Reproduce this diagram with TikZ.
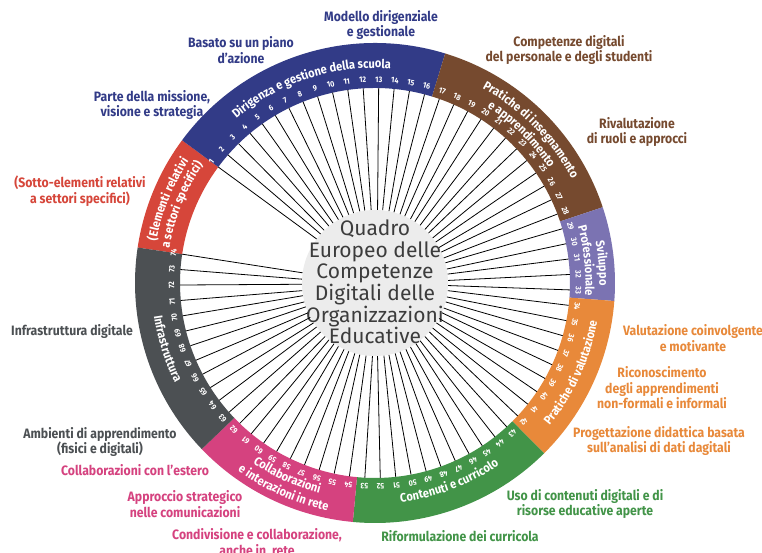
\documentclass[tikz,border=0pt]{standalone}
\usepackage{xcolor}
\usepackage{fontspec}
\usepackage{tikz}
\usetikzlibrary{decorations.text}

\newfontfamily\labelfont{Fira Sans}[FakeStretch=0.9]
\newfontfamily\hubfont{Fira Sans}

\definecolor{dirblue}{HTML}{323B87}
\definecolor{pratbrown}{HTML}{764A2F}
\definecolor{svilpurple}{HTML}{7B73B2}
\definecolor{valorange}{HTML}{E8893A}
\definecolor{contgreen}{HTML}{429448}
\definecolor{collpink}{HTML}{D5427F}
\definecolor{infgray}{HTML}{4C5053}
\definecolor{elemred}{HTML}{D6463A}
\definecolor{hubfill}{HTML}{ECECEC}
\definecolor{hubink}{HTML}{3C3C3C}

\newcommand{\bandfont}{\labelfont\bfseries\fontsize{12.3}{13}\selectfont\color{white}}

\tikzset{
  bandtext/.style={decorate, decoration={text along path, text align=center, text={|\bandfont|#1}}},
}

\begin{document}
\begin{tikzpicture}[x=1pt, y=1pt,
    lbl/.style={font=\labelfont\bfseries\fontsize{13.6}{15.5}\selectfont, align=center, inner sep=0pt},
    num/.style={font=\labelfont\bfseries\fontsize{8}{8}\selectfont, text=white, inner sep=0pt},
    spoke/.style={line width=0.8pt, black},
    hub/.style={circle, fill=hubfill, minimum size=146pt, inner sep=0pt},
    hubtxt/.style={font=\hubfont\fontsize{21}{21.6}\selectfont, text=hubink, align=center, inner sep=0pt}]

\useasboundingbox[fill=white] (0,0) rectangle (762,553);

\begin{scope}[shift={(375,270)}]
  \foreach \col/\from/\to in {elemred/171.5/143.5, dirblue/143.5/73.0, pratbrown/73.0/18.4,
      svilpurple/18.4/-4.3, valorange/-4.3/-45.2, contgreen/-45.2/-95.3,
      collpink/-95.3/-136.2, infgray/-136.2/-188.5}
    \fill[\col] (\from:195) arc[start angle=\from, end angle=\to, radius=195]
      -- (\to:240) arc[start angle=\to, end angle=\from, radius=240] -- cycle;

  \node[hub] (hub) at (0,0) {};
  \node[hubtxt] (title) at (0,1) {Quadro\\Europeo delle\\Competenze\\Digitali delle\\Organizzazioni\\Educative};

  \foreach \k [evaluate=\k as \a using 143.5-(\k-1)*4.548] in {1,...,74} {
    \draw[spoke] (hub.\a) -- (\a:195);
    \node[num, rotate=\a-90] (n\k) at (\a:203.5) {\k};
  }

  % titles on the ring
  \path[bandtext={Dirigenza e gestione della scuola}] (148:215) arc[start angle=148, end angle=68, radius=215];
  \path[bandtext={Pratiche di insegnamento}] (84.5:222.5) arc[start angle=84.5, end angle=4.5, radius=222.5];
  \path[bandtext={e apprendimento}] (85.5:208.5) arc[start angle=85.5, end angle=5.5, radius=208.5];
  \path[bandtext={Sviluppo}] (45:224.5) arc[start angle=45, end angle=-35, radius=224.5];
  \path[bandtext={Professionale}] (46:210.5) arc[start angle=46, end angle=-34, radius=210.5];
  \path[bandtext={Pratiche di valutazione}] (-64.5:225.5) arc[start angle=-64.5, end angle=15.5, radius=225.5];
  \path[bandtext={Contenuti e curricolo}] (-109.5:220.5) arc[start angle=-109.5, end angle=-29.5, radius=220.5];
  \path[bandtext={Collaborazioni}] (-154.5:217.5) arc[start angle=-154.5, end angle=-74.5, radius=217.5];
  \path[bandtext={e interazioni in rete}] (-154:232.5) arc[start angle=-154, end angle=-74, radius=232.5];
  \path[bandtext={Infrastruttura}] (157.5:223.5) arc[start angle=157.5, end angle=237.5, radius=223.5];
  \path[bandtext={(Elementi relativi}] (198:222.5) arc[start angle=198, end angle=118, radius=222.5];
  \path[bandtext={a settori specifici)}] (198:208.5) arc[start angle=198, end angle=118, radius=208.5];
\end{scope}

\node[lbl, text=dirblue] (modello) at (381,528) {Modello dirigenziale\\e gestionale};
\node[lbl, text=dirblue] (piano) at (241,503) {Basato su un piano\\d’azione};
\node[lbl, text=dirblue] (missione) at (152,448) {Parte della missione,\\visione e strategia};
\node[lbl, text=pratbrown] (personale) at (569,503) {Competenze digitali\\del personale e degli studenti};
\node[lbl, text=pratbrown] (ruoli) at (637,421) {Rivalutazione\\di ruoli e approcci};
\node[lbl, text=elemred] (settori) at (80,362) {(Sotto-elementi relativi\\a settori specifici)};
\node[lbl, text=infgray] (infra) at (72,221) {Infrastruttura digitale};
\node[lbl, text=infgray] (ambienti) at (100,111) {Ambienti di apprendimento\\(fisici e digitali)};
\node[lbl, text=collpink] (estero) at (135,83) {Collaborazioni con l’estero};
\node[lbl, text=collpink] (comunic) at (185,49) {Approccio strategico\\nelle comunicazioni};
\node[lbl, text=collpink] (condiv) at (257,11) {Condivisione e collaborazione,\\anche in\ \ rete};
\node[lbl, text=contgreen] (riform) at (460,17) {Riformulazione dei curricola};
\node[lbl, text=contgreen] (risorse) at (585,49) {Uso di contenuti digitali e di\\risorse educative aperte};
\node[lbl, text=valorange] (progett) at (659,112) {Progettazione didattica basata\\sull’analisi di dati dagitali};
\node[lbl, text=valorange] (ricon) at (662,165) {Riconoscimento\\degli apprendimenti\\non-formali e informali};
\node[lbl, text=valorange] (coinv) at (693,215) {Valutazione coinvolgente\\e motivante};
\end{tikzpicture}
\end{document}
